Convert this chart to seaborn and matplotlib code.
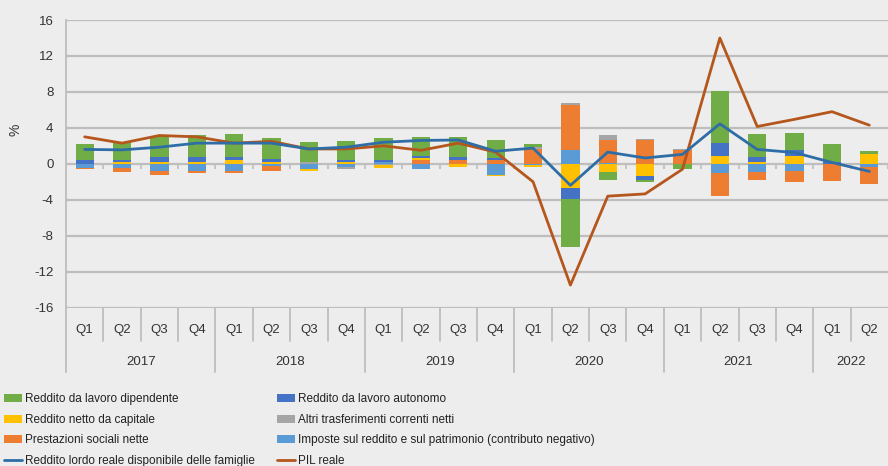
import matplotlib
matplotlib.use('Agg')
import matplotlib.pyplot as plt
import matplotlib.transforms as mtransforms
from matplotlib.patches import Patch
from matplotlib.lines import Line2D
import seaborn as sns
import numpy as np
import pandas as pd

# quarters 2017 Q1 .. 2022 Q2
quarters = ['Q1', 'Q2', 'Q3', 'Q4'] * 5 + ['Q1', 'Q2']
years = ['2017', '2018', '2019', '2020', '2021', '2022']

# contributions (percentage points)
lavoro_dipendente = [1.8, 2.0, 2.3, 2.4, 2.5, 2.3, 2.2, 2.15, 2.4, 2.1, 2.2, 2.0,
                     0.35, -5.35, -0.9, -0.3, -0.5, 5.75, 2.5, 1.85, 1.95, 0.35]
lavoro_autonomo = [0.4, 0.2, 0.6, 0.6, 0.4, 0.35, 0.0, 0.2, 0.3, 0.25, 0.3, 0.2,
                   0.0, -1.2, 0.0, -0.35, 0.0, 1.4, 0.6, 0.65, 0.2, 0.0]
netto_capitale = [0.0, 0.2, 0.2, 0.2, 0.4, 0.2, -0.2, 0.2, -0.35, 0.2, -0.35, -0.1,
                  -0.25, -2.7, -0.95, -1.4, 0.0, 0.9, 0.2, 0.9, 0.0, 1.1]
altri_trasferimenti = [0.0, 0.0, 0.0, 0.0, 0.0, 0.0, 0.2, -0.15, -0.15, 0.0, 0.0, 0.0,
                       0.15, 0.25, 0.5, 0.2, 0.1, 0.0, 0.0, 0.0, 0.0, 0.0]
prestazioni_sociali = [-0.1, -0.45, -0.55, -0.25, -0.3, -0.5, 0.0, 0.0, 0.0, 0.45, 0.45, 0.45,
                       1.7, 5.0, 2.6, 2.6, 1.55, -2.5, -0.9, -1.2, -1.95, -1.9]
imposte = [-0.5, -0.5, -0.75, -0.75, -0.75, -0.3, -0.6, -0.4, 0.15, -0.55, 0.0, -1.3,
           -0.1, 1.55, 0.05, 0.0, -0.05, -1.05, -0.9, -0.85, 0.0, -0.35]

reddito_lordo = [1.6, 1.55, 1.85, 2.3, 2.3, 2.3, 1.65, 1.85, 2.4, 2.6, 2.65, 1.4,
                 1.75, -2.4, 1.3, 0.65, 1.05, 4.45, 1.6, 1.25, 0.15, -0.85]
pil_reale = [3.0, 2.3, 3.15, 3.0, 2.3, 2.5, 1.65, 1.65, 2.0, 1.5, 2.3, 1.3,
             -2.0, -13.5, -3.6, -3.35, -0.6, 14.0, 4.15, 4.95, 5.8, 4.3]

bg = '#EDEDED'
sns.set_theme(style='white', rc={'axes.facecolor': bg, 'figure.facecolor': bg})
plt.rcParams['font.family'] = ['Liberation Sans', 'DejaVu Sans']
plt.rcParams['axes.unicode_minus'] = False

fig = plt.figure(figsize=(8.88, 4.66), dpi=100)
ax = fig.add_axes([66 / 888, 0.340, 1 - 66 / 888, 0.617])

x = np.arange(len(quarters))

# stacking order from zero outwards (Excel series order)
series = [
    ('Imposte sul reddito e sul patrimonio (contributo negativo)', imposte, '#5B9BD5'),
    ('Prestazioni sociali nette', prestazioni_sociali, '#ED7D31'),
    ('Altri trasferimenti correnti netti', altri_trasferimenti, '#A5A5A5'),
    ('Reddito netto da capitale', netto_capitale, '#FFC000'),
    ('Reddito da lavoro autonomo', lavoro_autonomo, '#4472C4'),
    ('Reddito da lavoro dipendente', lavoro_dipendente, '#70AD47'),
]

pos_base = np.zeros(len(x))
neg_base = np.zeros(len(x))
for name, vals, col in series:
    v = np.array(vals)
    bottom = np.where(v >= 0, pos_base, neg_base)
    ax.bar(x, v, bottom=bottom, width=0.49, color=col, linewidth=0, zorder=2)
    pos_base += np.where(v >= 0, v, 0)
    neg_base += np.where(v < 0, v, 0)

lines = pd.DataFrame({'x': x, 'reddito': reddito_lordo, 'pil': pil_reale})
sns.lineplot(data=lines, x='x', y='reddito', color='#2E6DA6', lw=2, ax=ax, zorder=4)
sns.lineplot(data=lines, x='x', y='pil', color='#B5561C', lw=2, ax=ax, zorder=3)

ax.set_xlim(-0.5, len(x) - 0.5)
ax.set_ylim(-16, 16)
ax.set_yticks(range(-16, 17, 4))
ax.yaxis.grid(True, color='#BEBEBE', lw=1.6, zorder=0)
ax.set_axisbelow(True)
for s in ['top', 'right', 'bottom']:
    ax.spines[s].set_visible(False)
ax.spines['left'].set_color('#BEBEBE')
ax.spines['left'].set_linewidth(1.3)
ax.tick_params(axis='y', length=5, width=1, direction='out',
               labelsize=9.5, pad=4, colors='#BEBEBE', labelcolor='#333333')
ax.set_ylabel('%', fontsize=10, color='#333333')
ax.yaxis.set_label_coords(-0.053, 0.617)
ax.set_xlabel('')

# zero axis with small tick marks
ax.axhline(0, color='#BEBEBE', lw=1.3, zorder=1)
ax.vlines(np.arange(len(x) + 1) - 0.5, -0.55, 0, color='#BEBEBE', lw=1.2, zorder=1)

# multi-level category axis
ax.set_xticks(x)
ax.set_xticklabels([])
ax.tick_params(axis='x', length=0)
trans = mtransforms.blended_transform_factory(ax.transData, ax.transAxes)
for i, q in enumerate(quarters):
    ax.text(i, -0.078, q, transform=trans, ha='center', va='center',
            fontsize=9.5, color='#333333')
for b in range(len(x)):
    low = -0.224 if b % 4 == 0 else -0.115
    ax.plot([b - 0.5, b - 0.5], [0, low], transform=trans, color='#BEBEBE',
            lw=1.3, clip_on=False)
for k, yr in enumerate(years):
    start = 4 * k
    end = min(4 * k + 4, len(x))
    ax.text((start + end - 1) / 2, -0.188, yr, transform=trans, ha='center', va='center',
            fontsize=9.5, color='#333333')

# legend (row-major order in two columns)
h = {name: Patch(facecolor=col, edgecolor='none') for name, vals, col in series}
l_red = Line2D([], [], color='#2E6DA6', lw=2)
l_pil = Line2D([], [], color='#B5561C', lw=2)
handles = [h['Reddito da lavoro dipendente'], h['Reddito netto da capitale'],
           h['Prestazioni sociali nette'], l_red,
           h['Reddito da lavoro autonomo'], h['Altri trasferimenti correnti netti'],
           h['Imposte sul reddito e sul patrimonio (contributo negativo)'], l_pil]
labels = ['Reddito da lavoro dipendente', 'Reddito netto da capitale',
          'Prestazioni sociali nette', 'Reddito lordo reale disponibile delle famiglie',
          'Reddito da lavoro autonomo', 'Altri trasferimenti correnti netti',
          'Imposte sul reddito e sul patrimonio (contributo negativo)', 'PIL reale']
fig.legend(handles, labels, ncol=2, loc='upper left', bbox_to_anchor=(0.004, 0.156),
           frameon=False, fontsize=8.5, handlelength=1.6, handleheight=0.7,
           handletextpad=0.2, labelspacing=0.72, columnspacing=1.85,
           borderaxespad=0, borderpad=0, labelcolor='#222222')

fig.savefig('out.png', dpi=100, facecolor=bg)
